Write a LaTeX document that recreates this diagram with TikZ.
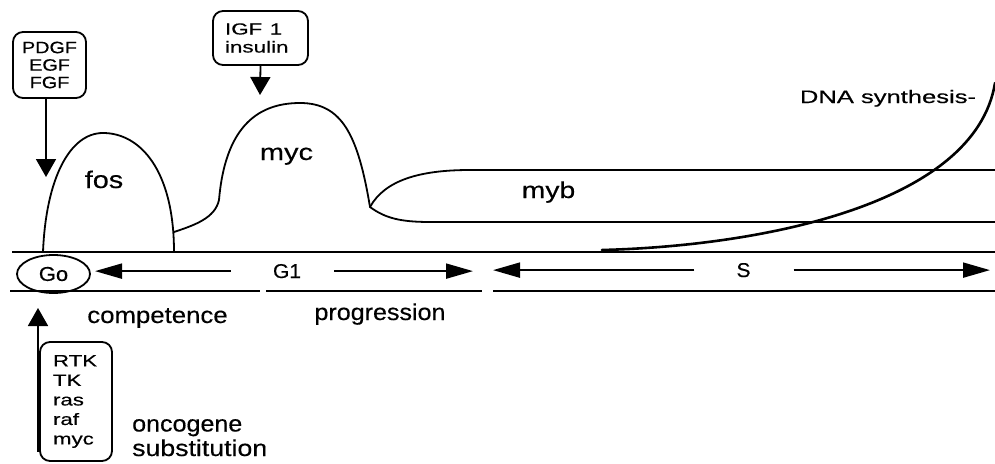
\documentclass[tikz,border=0pt]{standalone}
\usepackage{fontspec}
\setmainfont{Liberation Sans}[FakeBold=0.35]
\usepackage{graphicx}
\usetikzlibrary{arrows.meta,shapes.geometric}
\newcommand{\hstretch}[2]{\scalebox{#1}[1]{#2}}
\begin{document}
\begin{tikzpicture}[x=1pt,y=-1pt,
  curve/.style={line width=1.8pt, line cap=round, line join=round},
  rail/.style={line width=2.6pt},
  gbox/.style={draw, rounded corners=10pt, line width=1.8pt, inner sep=0pt},
  lab/.style={inner sep=0pt, font=\fontsize{23}{27}\selectfont},
  bigtip/.style={line width=1.8pt, -{Triangle[width=20pt,length=18pt]}},
  phasetip/.style={line width=2pt, -{Triangle[width=15pt,length=27pt]}},
]
\useasboundingbox (0,0) rectangle (995,463);

% boxes
\node[gbox, minimum width=73pt, minimum height=66pt, align=center,
      font=\fontsize{16.5}{17.5}\selectfont] (pdgf) at (49.5,65)
      {\hstretch{1.2}{PDGF}\\\hstretch{1.2}{EGF}\\\hstretch{1.2}{FGF}};
\node[gbox, minimum width=95pt, minimum height=54pt, text width=71pt, align=left,
      font=\fontsize{16}{18}\selectfont] (igf) at (260.5,38)
      {\hstretch{1.4}{IGF 1}\\\hstretch{1.4}{insulin}};
\node[gbox, minimum width=72pt, minimum height=119pt, text width=46pt, align=left,
      font=\fontsize{16.5}{19.5}\selectfont] (rtk) at (76,401.5)
      {\hstretch{1.35}{RTK}\\\hstretch{1.35}{TK}\\\hstretch{1.35}{ras}\\\hstretch{1.35}{raf}\\\hstretch{1.35}{myc}};

% Go ellipse
\node[draw, ellipse, line width=1.8pt, minimum width=73pt, minimum height=38pt,
      inner sep=0pt, font=\fontsize{20}{22}\selectfont] (go) at (53.5,274)
      {\hstretch{1.1}{Go}};

% rails
\draw[rail] (12,252) -- (995,252);
\draw[rail] (10,291) -- (260,291);
\draw[rail] (266,291) -- (482,291);
\draw[rail] (493,291) -- (995,291);

% arrows from boxes
\coordinate (pdgftip) at (46,177);
\draw[bigtip] (pdgftip |- pdgf.south) -- (pdgftip);
\coordinate (igftip) at (260,95);
\draw[bigtip] (igf.south) -- (igftip);
\coordinate (rtktip) at (38,308);
\draw[bigtip] ([yshift=10pt]rtktip |- rtk.south) -- (rtktip);

% phase labels and arrows
\node[lab, font=\fontsize{20}{22}\selectfont, anchor=base] (g1) at (287,278) {\hstretch{1.05}{G1}};
\coordinate (g1l) at (95,272);
\coordinate (g1r) at (473,272);
\draw[phasetip] ([xshift=-42pt]g1.west) -- (g1l |- g1.west);
\draw[phasetip] ([xshift=33pt]g1.east) -- (g1r |- g1.east);
\node[lab, font=\fontsize{20}{22}\selectfont, anchor=base] (s) at (743.5,277) {\hstretch{1.05}{S}};
\coordinate (sl) at (493,272);
\coordinate (sr) at (990,272);
\draw[phasetip] ([xshift=-42pt]s.west) -- (sl |- s.west);
\draw[phasetip] ([xshift=43pt]s.east) -- (sr |- s.east);

% curves
\draw[curve] (43,252) .. controls (46,178) and (70,133) .. (103,133)
             .. controls (140,133) and (174,170) .. (174,252);
\draw[curve] (174,232) .. controls (195,225) and (215,218) .. (219,200)
             .. controls (225,130) and (255,103) .. (300,103)
             .. controls (342,103) and (358,135) .. (370,207);
\draw[curve] (370,207) .. controls (385,180) and (420,170) .. (470,170) -- (995,170);
\draw[curve] (370,207) .. controls (385,218) and (400,222) .. (430,222) -- (995,222);
\draw[line width=2.6pt, line cap=round] (602,250) .. controls (760,246) and (975,205) .. (995,83);

% labels
\node[lab, font=\fontsize{24}{28}\selectfont, anchor=base] (fos) at (104,188) {\hstretch{1.2}{fos}};
\node[lab, anchor=base] (myc) at (286.5,160) {\hstretch{1.26}{myc}};
\node[lab, anchor=base] (myb) at (548.5,198) {\hstretch{1.23}{myb}};
\node[lab, font=\fontsize{18}{20}\selectfont, anchor=base] (dna) at (888,103) {\hstretch{1.42}{DNA synthesis-}};
\node[lab, anchor=base] (comp) at (157.5,323) {\hstretch{1.12}{competence}};
\node[lab, anchor=base] (prog) at (380,320) {\hstretch{1.09}{progression}};
\node[lab, anchor=base west] (onco) at (132,431.5) {\hstretch{1.09}{oncogene}};
\node[lab, anchor=base west] (subst) at (132,456) {\hstretch{1.16}{substitution}};
\end{tikzpicture}
\end{document}
